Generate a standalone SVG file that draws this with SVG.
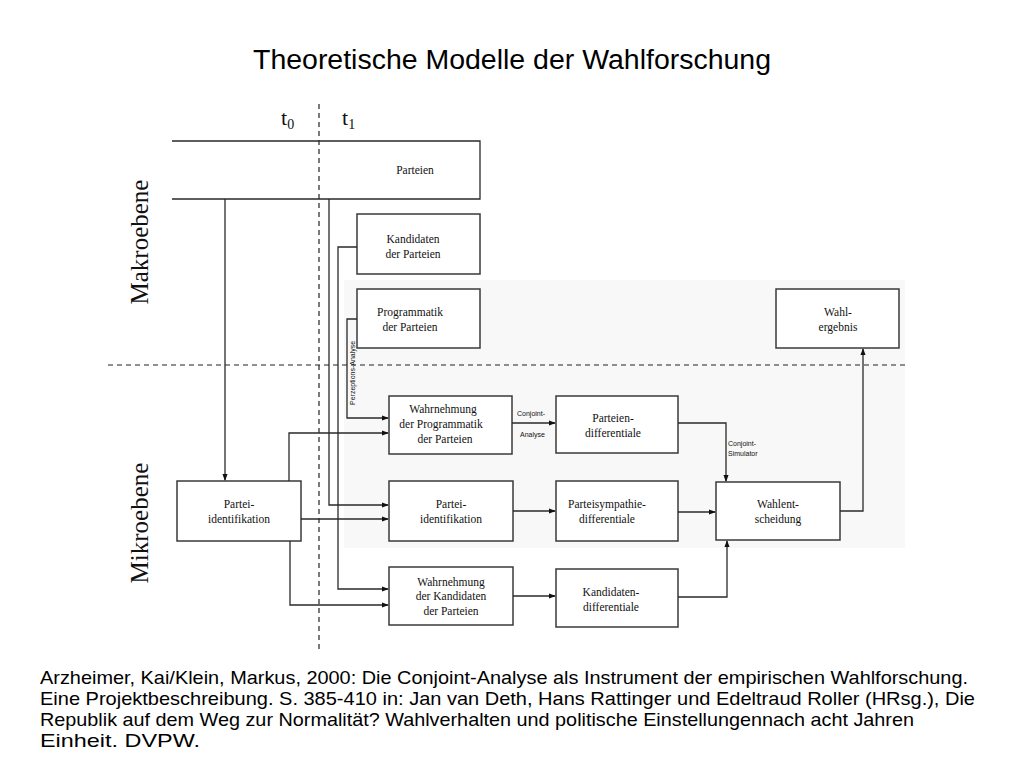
<svg xmlns="http://www.w3.org/2000/svg" width="1024" height="768" viewBox="0 0 1024 768">
<defs>
<style>
.box{fill:#ffffff;stroke:#3a3a3a;stroke-width:1.5}
.ln{fill:none;stroke:#2a2a2a;stroke-width:1.3}
.dash{fill:none;stroke:#222;stroke-width:1.2;stroke-dasharray:5,4}
.nt{font-family:"Liberation Serif","Times New Roman",serif;font-size:11.5px;fill:#111;text-anchor:middle}
.sm{font-family:"Liberation Sans",Arial,sans-serif;font-size:7px;fill:#111}
.lvl{font-family:"Liberation Serif","Times New Roman",serif;font-size:25px;fill:#111;text-anchor:middle}
.ti{font-family:"Liberation Serif","Times New Roman",serif;font-size:22px;fill:#111}
.cit{font-family:"Liberation Sans",Arial,sans-serif;font-size:19px;fill:#000}
</style>
<marker id="ah" viewBox="0 0 8 8" refX="7" refY="4" markerWidth="7" markerHeight="7" orient="auto" markerUnits="userSpaceOnUse">
<path d="M0,1 L8,4 L0,7 z" fill="#111"/>
</marker>
</defs>
<rect width="1024" height="768" fill="#ffffff"/>
<rect x="344" y="280" width="561" height="268" fill="#f8f8f8"/>
<text x="253" y="69" font-family="Liberation Sans, Arial, sans-serif" font-size="27" fill="#000" textLength="518" lengthAdjust="spacingAndGlyphs">Theoretische Modelle der Wahlforschung</text>
<text class="ti" x="281" y="125">t<tspan font-size="14" dy="4">0</tspan></text>
<text class="ti" x="342" y="125">t<tspan font-size="14" dy="4">1</tspan></text>
<text class="lvl" transform="translate(148,242) rotate(-90)">Makroebene</text>
<text class="lvl" transform="translate(148,523) rotate(-90)">Mikroebene</text>
<g id="dividers">
<line class="dash" x1="319" y1="104" x2="319" y2="650"/>
<line class="dash" x1="108" y1="365" x2="905" y2="365"/>
</g>
<g id="parteien">
<path class="ln" d="M172,141 H480 V199 H172" stroke-width="1.5"/>
<text class="nt" x="415" y="174">Parteien</text>
</g>
<g id="kandidaten">
<rect class="box" x="357" y="214" width="123" height="60"/>
<text class="nt" x="413" y="243">Kandidaten</text>
<text class="nt" x="413" y="258">der Parteien</text>
</g>
<g id="programmatik">
<rect class="box" x="357" y="289" width="123" height="59"/>
<text class="nt" x="410" y="316">Programmatik</text>
<text class="nt" x="410" y="331">der Parteien</text>
</g>
<g id="wahlergebnis">
<rect class="box" x="776" y="289" width="123" height="59"/>
<text class="nt" x="838" y="316">Wahl-</text>
<text class="nt" x="838" y="331">ergebnis</text>
</g>
<g id="wahrnehmung-programmatik">
<rect class="box" x="389" y="396" width="123" height="58"/>
<text class="nt" x="443" y="413">Wahrnehmung</text>
<text class="nt" x="441" y="428">der Programmatik</text>
<text class="nt" x="445" y="443">der Parteien</text>
</g>
<g id="parteien-differentiale">
<rect class="box" x="556" y="396" width="122" height="57"/>
<text class="nt" x="613" y="422">Parteien-</text>
<text class="nt" x="613" y="437">differentiale</text>
</g>
<g id="partei-identifikation-t0">
<rect class="box" x="177" y="481" width="124" height="60"/>
<text class="nt" x="239" y="508">Partei-</text>
<text class="nt" x="239" y="523">identifikation</text>
</g>
<g id="partei-identifikation-t1">
<rect class="box" x="389" y="481" width="124" height="60"/>
<text class="nt" x="451" y="508">Partei-</text>
<text class="nt" x="451" y="523">identifikation</text>
</g>
<g id="parteisympathie-differentiale">
<rect class="box" x="556" y="481" width="122" height="60"/>
<text class="nt" x="607" y="508">Parteisympathie-</text>
<text class="nt" x="607" y="523">differentiale</text>
</g>
<g id="wahlentscheidung">
<rect class="box" x="716" y="482" width="124" height="58"/>
<text class="nt" x="778" y="508">Wahlent-</text>
<text class="nt" x="778" y="523">scheidung</text>
</g>
<g id="wahrnehmung-kandidaten">
<rect class="box" x="389" y="567" width="124" height="58"/>
<text class="nt" x="451" y="586">Wahrnehmung</text>
<text class="nt" x="451" y="600">der Kandidaten</text>
<text class="nt" x="451" y="615">der Parteien</text>
</g>
<g id="kandidaten-differentiale">
<rect class="box" x="556" y="569" width="122" height="58"/>
<text class="nt" x="611" y="596">Kandidaten-</text>
<text class="nt" x="611" y="611">differentiale</text>
</g>
<g id="connectors">
<path class="ln" d="M225,199 V480" marker-end="url(#ah)"/>
<path class="ln" d="M329,199 V505 H388" marker-end="url(#ah)"/>
<path class="ln" d="M357,247 H338 V589 H388" marker-end="url(#ah)"/>
<path class="ln" d="M357,319 H347 V418 H388" marker-end="url(#ah)"/>
<path class="ln" d="M289,481 V433 H388" marker-end="url(#ah)"/>
<path class="ln" d="M301,519 H388" marker-end="url(#ah)"/>
<path class="ln" d="M290,541 V605 H388" marker-end="url(#ah)"/>
<path class="ln" d="M512,423 H555" marker-end="url(#ah)"/>
<path class="ln" d="M678,423 H726 V481" marker-end="url(#ah)"/>
<path class="ln" d="M513,511 H555" marker-end="url(#ah)"/>
<path class="ln" d="M678,512 H715" marker-end="url(#ah)"/>
<path class="ln" d="M513,596 H555" marker-end="url(#ah)"/>
<path class="ln" d="M678,597 H727 V541" marker-end="url(#ah)"/>
<path class="ln" d="M840,511 H863 V349" marker-end="url(#ah)"/>
<text class="sm" transform="translate(355,405) rotate(-90)">Perzeptions-Analyse</text>
<text class="sm" x="517" y="416">Conjoint-</text>
<text class="sm" x="520" y="437">Analyse</text>
<text class="sm" x="728" y="446">Conjoint-</text>
<text class="sm" x="728" y="456">Simulator</text>
</g>
<text class="cit" x="40" y="684" textLength="928" lengthAdjust="spacingAndGlyphs">Arzheimer, Kai/Klein, Markus, 2000: Die Conjoint-Analyse als Instrument der empirischen Wahlforschung.</text>
<text class="cit" x="40" y="705" textLength="935" lengthAdjust="spacingAndGlyphs">Eine Projektbeschreibung. S. 385-410 in: Jan van Deth, Hans Rattinger und Edeltraud Roller (HRsg.), Die</text>
<text class="cit" x="40" y="726" textLength="874" lengthAdjust="spacingAndGlyphs">Republik auf dem Weg zur Normalität? Wahlverhalten und politische Einstellungennach acht Jahren</text>
<text class="cit" x="40" y="747" textLength="160" lengthAdjust="spacingAndGlyphs">Einheit. DVPW.</text>
</svg>
